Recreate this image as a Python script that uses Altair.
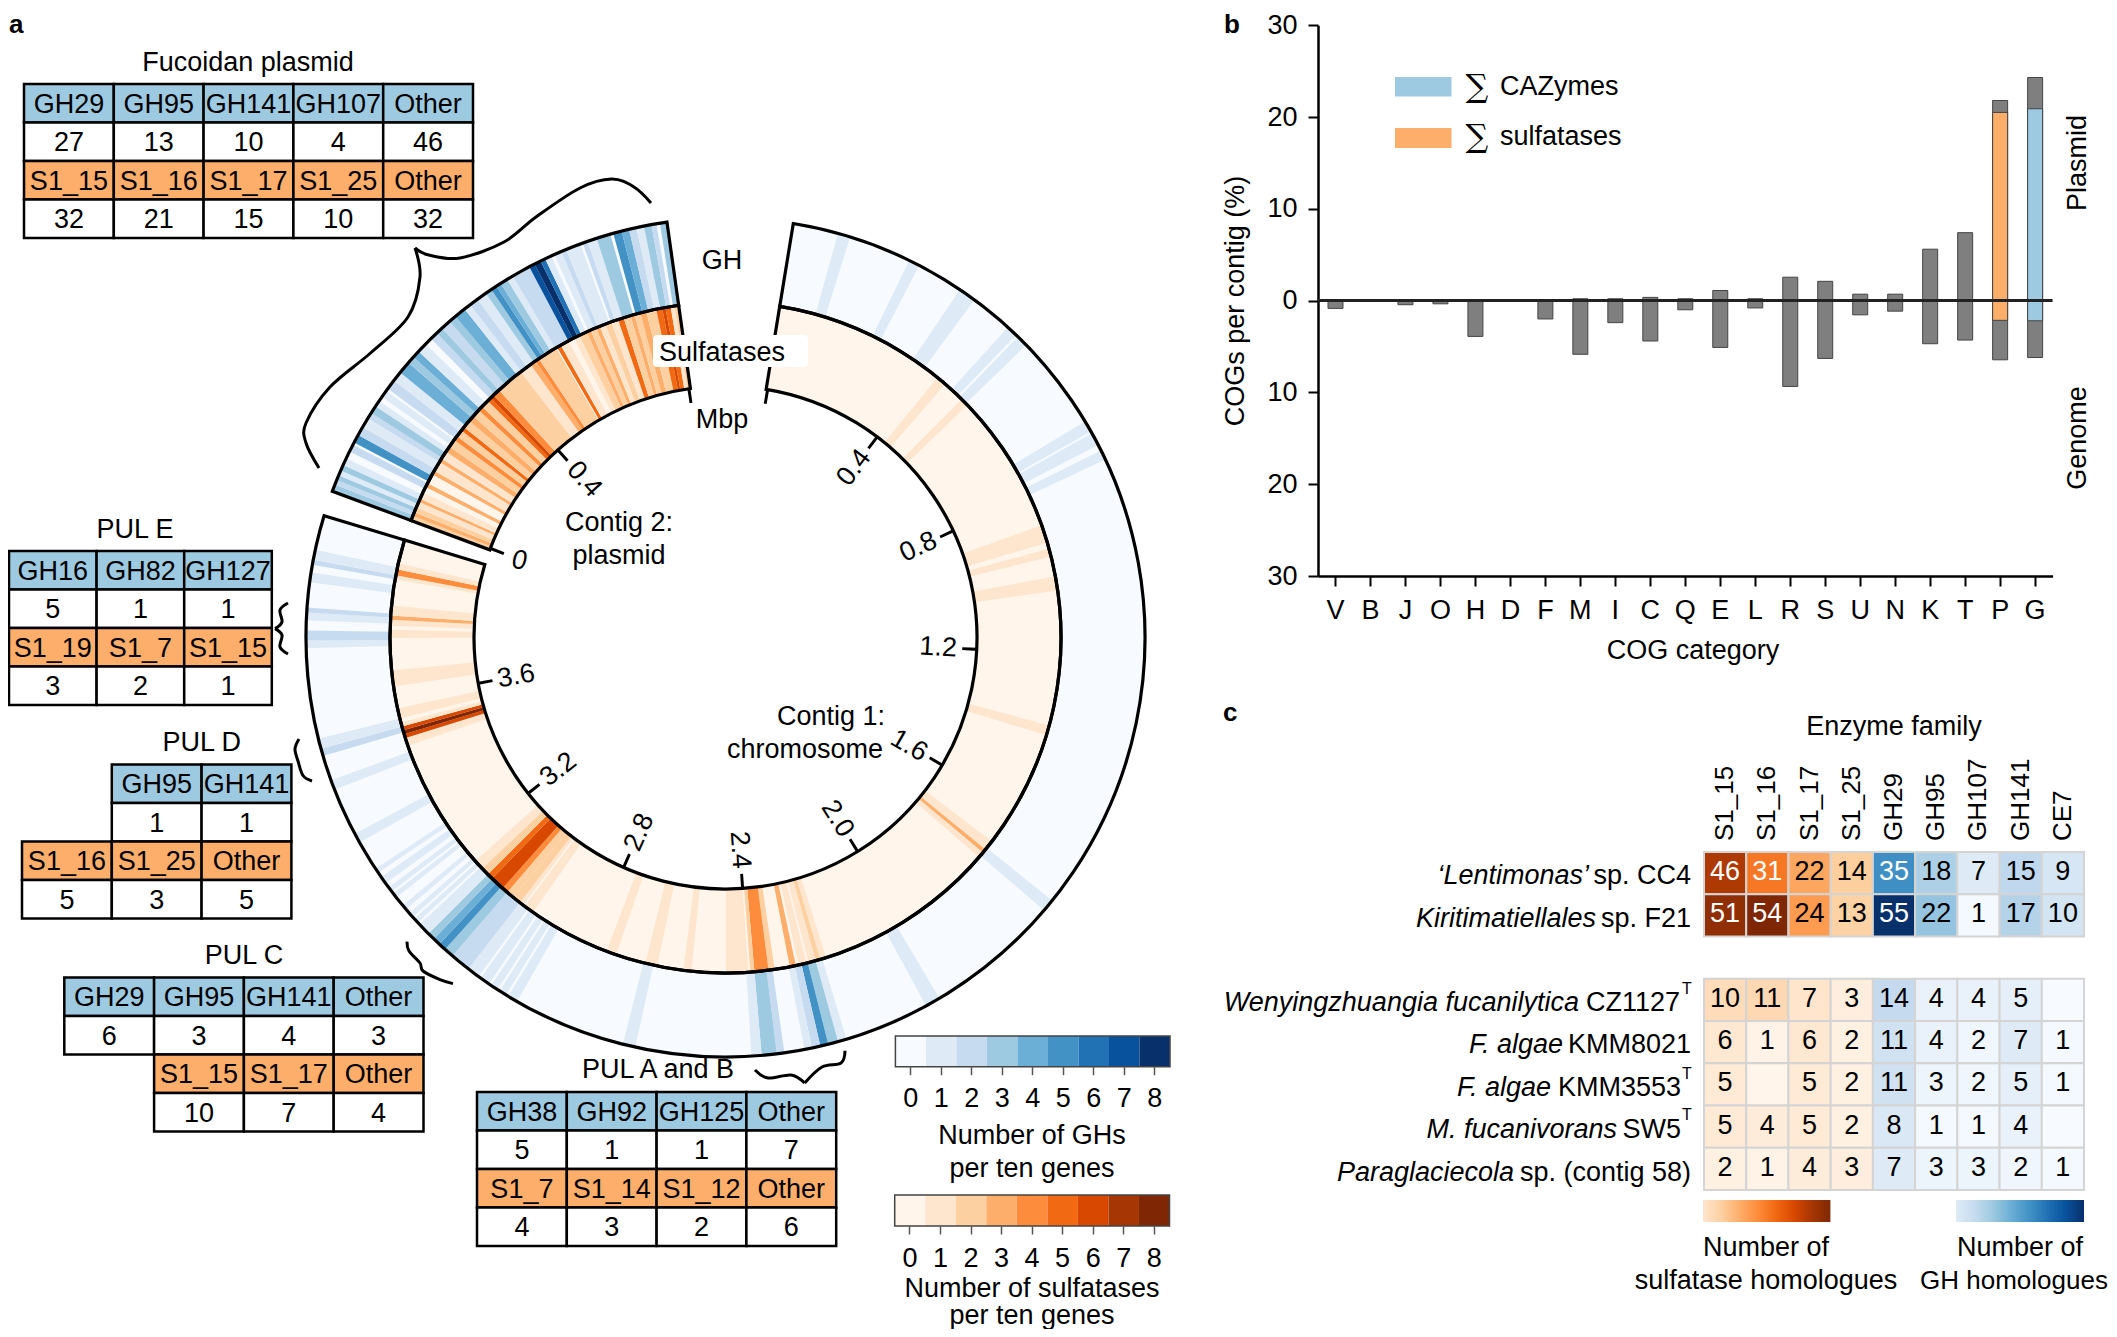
import math
import altair as alt
import pandas as pd

FONT = "Liberation Sans"
W, H = 2101, 1321
BLUES = ["#f7fbff", "#deebf7", "#c6dbef", "#9ecae1", "#6baed6", "#4292c6", "#2171b5", "#08519c", "#08306b"]
ORANGES = ["#fff5eb", "#fee6ce", "#fdd0a2", "#fdae6b", "#fd8d3c", "#f16913", "#d94801", "#a63603", "#7f2704"]
CELL_BLUE, CELL_ORANGE = "#9ecae1", "#fdae6b"

# ---------- panel a: stripes (start Mbp, end Mbp, genes per ten) ----------
chrom_gh = [(.09,.115,1),(.24,.262,1),(.355,.39,1),(.475,.497,1),(.502,.525,1),(.715,.738,1),(.742,.768,1),(.78,.80,1),
    (1.72,1.745,1),(2.015,2.045,1),(2.215,2.232,1),(2.232,2.252,3),(2.252,2.268,5),(2.268,2.285,2),(2.285,2.30,1),
    (2.34,2.355,2),(2.355,2.385,3),(2.385,2.405,1),(2.635,2.66,1),(2.885,2.905,1),(2.91,2.925,1),(2.93,2.945,1),
    (2.95,2.97,1),(2.975,3.0,1),(3.0,3.04,2),(3.04,3.06,3),(3.06,3.075,5),(3.075,3.09,4),(3.09,3.105,3),(3.105,3.13,1),
    (3.135,3.145,1),(3.15,3.16,1),(3.17,3.18,1),(3.2,3.21,1),(3.215,3.225,1),(3.235,3.25,1),(3.26,3.27,1),(3.33,3.35,1),
    (3.445,3.465,1),(3.515,3.53,2),(3.53,3.55,1),(3.73,3.745,1),(3.745,3.765,2),(3.785,3.80,1),(3.80,3.81,2),
    (3.86,3.88,1),(3.895,3.905,2),(3.905,3.925,1)]
chrom_s = [(.43,.455,1),(.51,.53,1),(.88,.925,1),(.94,.96,1),(1.01,1.045,1),(1.38,1.405,1),(1.70,1.725,1),(1.725,1.735,3),
    (1.735,1.75,1),(2.205,2.22,1),(2.22,2.232,2),(2.232,2.25,1),(2.255,2.275,1),(2.282,2.297,3),(2.335,2.35,2),(2.35,2.385,4),
    (2.385,2.395,2),(2.40,2.455,1),(2.54,2.56,1),(2.625,2.655,1),(2.73,2.755,1),(2.96,2.985,1),(2.99,3.0,1),(3.0,3.02,2),
    (3.02,3.04,2),(3.04,3.055,4),(3.055,3.09,6),(3.09,3.105,5),(3.105,3.125,2),(3.125,3.15,1),(3.48,3.50,1),(3.50,3.51,6),
    (3.51,3.52,8),(3.52,3.53,6),(3.53,3.54,1),(3.55,3.575,1),(3.63,3.67,1),(3.75,3.77,1),(3.78,3.795,1),(3.795,3.805,3),
    (3.805,3.83,1),(3.895,3.905,1),(3.905,3.92,4),(3.92,3.935,1)]
plas_gh = [(0,.014,3),(.014,.024,2),(.024,.034,3),(.034,.044,1),(.044,.056,3),(.056,.07,1),(.085,.10,2),(.105,.122,5),
    (.122,.14,2),(.14,.16,1),(.16,.172,2),(.172,.188,3),(.188,.20,1),(.21,.225,1),(.23,.25,2),(.25,.27,1),(.27,.295,4),
    (.295,.31,3),(.31,.325,4),(.325,.345,1),(.36,.376,2),(.376,.39,3),(.39,.41,2),(.41,.425,3),(.425,.448,4),(.448,.462,1),
    (.462,.48,2),(.48,.50,1),(.50,.513,3),(.513,.525,5),(.525,.535,4),(.535,.55,3),(.55,.563,1),(.563,.60,2),(.60,.612,7),(.612,.625,8),
    (.625,.635,6),(.635,.648,1),(.655,.67,1),(.67,.68,2),(.68,.71,1),(.715,.725,2),(.725,.744,1),(.744,.772,3),(.778,.795,5),
    (.795,.81,4),(.81,.825,2),(.825,.84,1),(.84,.855,3),(.855,.865,2),(.872,.886,3)]
plas_s = [(0,.012,2),(.012,.022,3),(.022,.035,2),(.035,.05,1),(.05,.058,3),(.058,.075,1),(.09,.10,3),(.125,.135,3),(.135,.16,1),
    (.16,.17,3),(.17,.19,1),(.19,.205,3),(.205,.225,2),(.225,.237,4),(.237,.255,2),(.255,.265,5),(.265,.285,2),(.285,.30,3),
    (.30,.32,2),(.32,.332,4),(.332,.352,2),(.352,.362,5),(.362,.372,6),(.372,.39,4),(.39,.46,2),(.46,.49,1),(.49,.505,3),
    (.505,.515,4),(.515,.565,2),(.568,.578,5),(.58,.60,1),(.615,.63,1),(.63,.65,2),(.65,.66,3),(.66,.675,2),(.675,.685,3),
    (.685,.70,1),(.70,.715,2),(.715,.733,1),(.733,.747,5),(.747,.765,2),(.765,.775,3),(.775,.79,2),(.79,.805,3),(.805,.83,2),
    (.83,.845,5),(.845,.853,6),(.853,.866,5),(.866,.876,1),(.876,.886,2)]
chrom_ticks = [0.4, 0.8, 1.2, 1.6, 2.0, 2.4, 2.8, 3.2, 3.6]
chrom_tick_rot = [307, 335, 3, 30, 58, 86, 294, 322, 350]
plas_ticks = [0.0, 0.4]
plas_tick_rot = [0, 48]

# ---------- panel a: tables ----------
fuc = [["GH29","GH95","GH141","GH107","Other"], [27,13,10,4,46], ["S1_15","S1_16","S1_17","S1_25","Other"], [32,21,15,10,32]]
pul_e = [["GH16","GH82","GH127"], [5,1,1], ["S1_19","S1_7","S1_15"], [3,2,1]]
pul_d = [[None,"GH95","GH141"], [None,1,1], ["S1_16","S1_25","Other"], [5,3,5]]
pul_c = [["GH29","GH95","GH141","Other"], [6,3,4,3], [None,"S1_15","S1_17","Other"], [None,10,7,4]]
pul_ab = [["GH38","GH92","GH125","Other"], [5,1,1,7], ["S1_7","S1_14","S1_12","Other"], [4,3,2,6]]

# ---------- panel b ----------
cog = list("VBJOHDFMICQELRSUNKTPG")
plasmid = [0,0,0,0,0,0,0,.2,.2,.35,.2,1.1,.2,2.55,2.1,.7,.7,5.6,7.4,21.8,24.3]
genome = [-.85,-.1,-.45,-.35,-3.9,0,-2.0,-5.85,-2.4,-4.4,-1.0,-5.1,-.8,-9.35,-6.3,-1.55,-1.15,-4.7,-4.3,-6.45,-6.2]
cog_sum_cat = ["P", "G"]
cog_sum_hi = [20.5, 20.9]
cog_sum_lo = [-2.15, -2.2]

# ---------- panel c ----------
enzymes = ["S1_15","S1_16","S1_17","S1_25","GH29","GH95","GH107","GH141","CE7"]
sp_rows = ["r0","r1","gap","r2","r3","r4","r5","r6"]
counts = {
 "r0":[46,31,22,14,35,18,7,15,9], "r1":[51,54,24,13,55,22,1,17,10],
 "r2":[10,11,7,3,14,4,4,5,None], "r3":[6,1,6,2,11,4,2,7,1],
 "r4":[5,None,5,2,11,3,2,5,1], "r5":[5,4,5,2,8,1,1,4,None], "r6":[2,1,4,3,7,3,3,2,1]}
sp_italic = ["‘Lentimonas’","Kiritimatiellales","Wenyingzhuangia fucanilytica","F. algae","F. algae","M. fucanivorans","Paraglaciecola"]
sp_plain = ["sp. CC4","sp. F21","CZ1127","KMM8021","KMM3553","SW5","sp. (contig 58)"]
sp_italic_end = [1589,1596,1579,1563,1551,1617,1514]
sp_plain_end = [1691,1691,1680,1691,1681,1681,1691]
sp_y = [874,917,1001,1043,1086,1128,1171]

# ---------- helpers: the canvas is measured in page pixels ----------
CX = alt.Scale(domain=[8, 8 + W], range=[0, W], nice=False, zero=False)
CY = alt.Scale(domain=[8, 8 + H], range=[0, H], nice=False, zero=False)
X = alt.X("x:Q", scale=CX, axis=None)
X2 = alt.X2("x2:Q")
Y = alt.Y("y:Q", scale=CY, axis=None)
Y2 = alt.Y2("y2:Q")
px = lambda v: v - 8

def T(texts, xs, ys, size=27, align="center", **kw):
    nudge = 0 if "angle" in kw else 1.5
    df = pd.DataFrame({"t": texts, "x": xs, "y": [v + nudge for v in ys]})
    return alt.Chart(df).mark_text(font=FONT, fontSize=size, color="black", baseline="middle", align=align, **kw).encode(x=X, y=Y, text="t:N")

layers = []

# ---------- rings ----------
cx, cy = 725.5, 637.5
Ro, Rm, Ri = 419.5, 335.5, 251.5
TH_C = alt.Scale(domain=[0, 4], range=[math.radians(9.3), math.radians(9.3 + 278)], nice=False, zero=False)
TH_P = alt.Scale(domain=[0, 1], range=[math.radians(290.4), math.radians(290.4 + 69.5)], nice=False, zero=False)
C_END, P_END = 3.994, 0.886

def ring(rows, r_out, r_in, th, pal):
    df = pd.DataFrame(rows, columns=["s", "e", "n"])
    return alt.Chart(df).mark_arc(stroke=None).encode(
        x=alt.value(px(cx)), y=alt.value(px(cy)),
        theta=alt.Theta("s:Q", scale=th, stack=None), theta2="e:Q",
        radius=alt.value(r_out), radius2=alt.value(r_in),
        color=alt.Color("n:O", scale=alt.Scale(domain=list(range(9)), range=pal), legend=None))

for rows, ro, ri, th, pal, end in [
    (chrom_gh, Ro, Rm, TH_C, BLUES, C_END), (chrom_s, Rm, Ri, TH_C, ORANGES, C_END),
    (plas_gh, Ro, Rm, TH_P, BLUES, P_END), (plas_s, Rm, Ri, TH_P, ORANGES, P_END)]:
    layers.append(ring([(0, end, 0)], ro, ri, th, pal))
    layers.append(ring(rows, ro, ri, th, pal))

def outline(r_out, r_in, th, end):
    df = pd.DataFrame({"s": [0], "e": [end]})
    return alt.Chart(df).mark_arc(filled=False, stroke="black", strokeWidth=3.2, fillOpacity=0).encode(
        x=alt.value(px(cx)), y=alt.value(px(cy)),
        theta=alt.Theta("s:Q", scale=th, stack=None), theta2="e:Q",
        radius=alt.value(r_out), radius2=alt.value(r_in))

for ro, ri in [(Ro, Rm), (Rm, Ri)]:
    layers.append(outline(ro, ri, TH_C, C_END))
    layers.append(outline(ro, ri, TH_P, P_END))

def ticks(vals, th):
    df = pd.DataFrame({"s": [v - 0.005 for v in vals], "e": [v + 0.005 for v in vals]})
    return alt.Chart(df).mark_arc(color="black").encode(
        x=alt.value(px(cx)), y=alt.value(px(cy)),
        theta=alt.Theta("s:Q", scale=th, stack=None), theta2="e:Q",
        radius=alt.value(Ri + 1), radius2=alt.value(237))

layers.append(ticks([0.005] + chrom_ticks, TH_C))
layers.append(ticks([0.005, 0.4, P_END - 0.005], TH_P))

def tick_labels(vals, rots, th, radius, **kw):
    df = pd.DataFrame({"m": vals, "t": [("0" if v == 0 else f"{v:.1f}") for v in vals], "rot": rots})
    return alt.Chart(df).mark_text(font=FONT, fontSize=27, color="black", baseline="middle", align="center", radius=radius, **kw).encode(
        x=alt.value(px(cx)), y=alt.value(px(cy)),
        theta=alt.Theta("m:Q", scale=th, stack=None),
        text="t:N", angle=alt.Angle("rot:Q", scale=None))

layers.append(tick_labels(chrom_ticks, chrom_tick_rot, TH_C, 213))
layers.append(tick_labels(plas_ticks[1:], plas_tick_rot[1:], TH_P, 212))
layers.append(tick_labels(plas_ticks[:1], plas_tick_rot[:1], TH_P, 220, fontStyle="italic"))

box = pd.DataFrame({"x": [653], "x2": [808], "y": [335], "y2": [367]})
layers.append(alt.Chart(box).mark_rect(color="white", cornerRadius=4).encode(x=X, x2=X2, y=Y, y2=Y2))
layers.append(T(["GH", "Sulfatases", "Mbp", "Contig 2:", "plasmid", "Contig 1:", "chromosome"],
                [722, 722, 722, 619, 619, 831, 805], [259, 351, 418, 521, 554, 715, 748]))

# ---------- braces ----------
braces = [
 [(651,203),(634,187),(611.6,179),(580,188),(536,217),(504,242),(460,258),(428.6,255),(415,248)],
 [(415,248),(420,277),(408,317),(370.5,353),(330,387),(306,423),(306,443),(319,468)],
 [(288,603),(280,610),(282,622),(275,628.6)], [(275,628.6),(282,635),(280,647),(288,654)],
 [(299,739),(295,749),(298,761),(303,775.5),(312,781)],
 [(407,941.6),(409,951),(420,963),(423,971),(440,979.6),(453,983.6)],
 [(845,1050.7),(841,1063),(822,1067),(804.7,1083)], [(804.7,1083),(791,1075),(768,1078),(755,1070)],
]
rows = [{"id": k, "i": i, "x": p[0], "y": p[1]} for k, b in enumerate(braces) for i, p in enumerate(b)]
layers.append(alt.Chart(pd.DataFrame(rows)).mark_line(color="black", strokeWidth=3, interpolate="cardinal").encode(
    x=X, y=Y, detail="id:N", order="i:Q"))

# ---------- tables ----------
def table(x0, y0, grid, cw=89.8, rh=38.5):
    rects, labels = [], []
    for r, row in enumerate(grid):
        for c, v in enumerate(row):
            if v is None:
                continue
            fill = "white" if r % 2 else (CELL_BLUE if r == 0 else CELL_ORANGE)
            rects.append({"x": x0 + c * cw, "x2": x0 + (c + 1) * cw, "y": y0 + r * rh, "y2": y0 + (r + 1) * rh, "f": fill})
            labels.append((str(v), x0 + (c + .5) * cw, y0 + (r + .5) * rh))
    a = alt.Chart(pd.DataFrame(rects)).mark_rect(stroke="black", strokeWidth=2.5).encode(
        x=X, x2=X2, y=Y, y2=Y2, color=alt.Color("f:N", scale=None))
    b = T([l[0] for l in labels], [l[1] for l in labels], [l[2] for l in labels])
    return [a, b]

layers += table(24, 84, fuc)
layers += table(9, 551, pul_e, cw=87.6)
layers += table(22, 764.5, pul_d)
layers += table(64.3, 977.5, pul_c)
layers += table(477, 1092, pul_ab)
layers.append(T(["Fucoidan plasmid", "PUL E", "PUL D", "PUL C", "PUL A and B"],
                [248, 135, 201.7, 244, 658], [61, 528, 741.6, 954, 1068]))

# ---------- ring legends ----------
def legend(pal, x0, x1, y0, y1, lines, line_y):
    df = pd.DataFrame({"n": list(range(9))})
    bx = alt.Scale(type="band", domain=list(range(9)), range=[px(x0), px(x1)], padding=0)
    rect = alt.Chart(df).mark_rect().encode(
        x=alt.X("n:O", scale=bx, axis=alt.Axis(orient="bottom", offset=-(H - px(y1)), title=None, domain=False, labelAngle=0,
                tickSize=8, tickColor="#555", tickWidth=1.5, labelFont=FONT, labelFontSize=27, labelColor="black", labelPadding=11)),
        y=alt.value(px(y0)), y2=alt.value(px(y1)),
        color=alt.Color("n:O", scale=alt.Scale(domain=list(range(9)), range=pal), legend=None))
    frame = pd.DataFrame({"x": [x0], "x2": [x1], "y": [y0], "y2": [y1]})
    edge = alt.Chart(frame).mark_rect(fillOpacity=0, stroke="#444", strokeWidth=1.5).encode(x=X, x2=X2, y=Y, y2=Y2)
    return [rect, edge, T(lines, [1032] * 2, line_y)]

layers += legend(BLUES, 895.4, 1170, 1036, 1066.7, ["Number of GHs", "per ten genes"], [1134, 1167.7])
layers += legend(ORANGES, 894.7, 1169.5, 1195, 1226, ["Number of sulfatases", "per ten genes"], [1287, 1314])

# ---------- panel b ----------
BX = alt.Scale(type="band", domain=cog, range=[px(1318), px(2052.6)], padding=0)
BY = alt.Scale(domain=[-30, 30], range=[px(576), px(25.2)], nice=False, zero=False)
bars = pd.DataFrame({"c": cog, "hi": plasmid, "lo": genome})
layers.append(alt.Chart(bars).mark_bar(size=15, color="#7f7f7f", stroke="#444", strokeWidth=1).encode(
    x=alt.X("c:N", scale=BX, sort=cog, axis=alt.Axis(orient="bottom", offset=-(H - px(576)), title=None, labelAngle=0, labelFont=FONT,
            labelFontSize=27, labelColor="black", tickSize=10, tickColor="black", tickWidth=2, domainColor="black", domainWidth=2.5, labelPadding=11)),
    y=alt.Y("hi:Q", scale=BY, axis=alt.Axis(orient="left", offset=-px(1318), title=None, grid=False, values=[-30,-20,-10,0,10,20,30],
            labelExpr="abs(datum.value)", labelFont=FONT, labelFontSize=27, labelColor="black", tickSize=10, tickColor="black",
            tickWidth=2, domainColor="black", domainWidth=2.5, labelPadding=11, labelFlush=False, labelOverlap=False)),
    y2="lo:Q"))
sums = pd.DataFrame({"c": cog_sum_cat, "hi": cog_sum_hi, "lo": cog_sum_lo, "f": [CELL_ORANGE, CELL_BLUE]})
layers.append(alt.Chart(sums).mark_bar(size=15, stroke="#444", strokeWidth=1).encode(
    x=alt.X("c:N", scale=BX, sort=cog, axis=None), y=alt.Y("hi:Q", scale=BY, axis=None), y2="lo:Q", color=alt.Color("f:N", scale=None)))
zero = pd.DataFrame({"x": [1318], "x2": [2052.6], "v": [0]})
layers.append(alt.Chart(zero).mark_rule(color="#222", strokeWidth=3).encode(
    x=alt.X("x:Q", scale=CX, axis=None), x2="x2:Q", y=alt.Y("v:Q", scale=BY, axis=None)))
swatch = pd.DataFrame({"x": [1395, 1395], "x2": [1451.5, 1451.5], "y": [77, 128], "y2": [96.5, 148], "f": [CELL_BLUE, CELL_ORANGE]})
layers.append(alt.Chart(swatch).mark_rect().encode(x=X, x2=X2, y=Y, y2=Y2, color=alt.Color("f:N", scale=None)))
sig = pd.DataFrame({"t": ["∑", "∑"], "x": [1477, 1477], "y": [87, 137]})
layers.append(alt.Chart(sig).mark_text(font="DejaVu Serif", fontSize=32, color="black", baseline="middle").encode(x=X, y=Y, text="t:N"))
layers.append(T(["CAZymes", "sulfatases"], [1500, 1500], [85.5, 135.5], align="left"))
layers.append(T(["COG category"], [1693], [649.5]))
layers.append(T(["COGs per contig (%)", "Plasmid", "Genome"], [1236, 2078, 2078], [301, 163, 438], angle=270))

# ---------- panel c ----------
HX = alt.Scale(type="band", domain=enzymes, range=[px(1704), px(2084)], padding=0)
HY = alt.Scale(type="band", domain=sp_rows, range=[px(852), px(1190)], padding=0)
cells = []
for r, vals in counts.items():
    for e, v in zip(enzymes, vals):
        big = v is not None and ((e == "S1_15" and v >= 46) or (e == "S1_16" and v >= 31) or (e == "GH29" and v >= 35))
        cells.append({"r": r, "e": e, "n": 0 if v is None else v, "t": "" if v is None else str(v),
                      "tc": "white" if big else "black", "grp": "s" if e.startswith("S1") else "g"})
cells = pd.DataFrame(cells)
for grp, pal, top in [("s", ORANGES, 54), ("g", BLUES, 55)]:
    layers.append(alt.Chart(cells[cells.grp == grp]).mark_rect(stroke="#d4d4d4", strokeWidth=2).encode(
        x=alt.X("e:N", scale=HX, sort=enzymes, axis=None), y=alt.Y("r:N", scale=HY, sort=sp_rows, axis=None),
        color=alt.Color("n:Q", scale=alt.Scale(domain=[top * i / 8 for i in range(9)], range=pal), legend=None)))
layers.append(alt.Chart(cells).mark_text(font=FONT, fontSize=27, baseline="middle", dy=-1).encode(
    x=alt.X("e:N", scale=HX, sort=enzymes, axis=None), y=alt.Y("r:N", scale=HY, sort=sp_rows, axis=None),
    text="t:N", color=alt.Color("tc:N", scale=None)))
hdr = pd.DataFrame({"e": enzymes, "yy": [841] * 9})
layers.append(alt.Chart(hdr).mark_text(font=FONT, fontSize=26, color="black", angle=270, align="left", baseline="middle").encode(
    x=alt.X("e:N", scale=HX, sort=enzymes, axis=None), y=alt.Y("yy:Q", scale=CY, axis=None), text="e:N"))
layers.append(T(sp_italic, sp_italic_end, sp_y, align="right", fontStyle="italic"))
layers.append(T(sp_plain, sp_plain_end, sp_y, align="right"))
layers.append(T(["T", "T", "T"], [1687, 1687, 1687], [987.5, 1072, 1113.6], size=16))

def grad(x0, x1, stops):
    df = pd.DataFrame({"x": [x0], "x2": [x1], "y": [1200], "y2": [1222]})
    fill = alt.LinearGradient(gradient="linear", x1=0, x2=1, y1=0, y2=0,
                              stops=[alt.GradientStop(color=c, offset=i / (len(stops) - 1)) for i, c in enumerate(stops)])
    return alt.Chart(df).mark_rect(fill=fill).encode(x=X, x2=X2, y=Y, y2=Y2)

layers.append(grad(1703, 1830.4, ORANGES[1:]))
layers.append(grad(1956, 2084, BLUES[1:]))
layers.append(T(["Enzyme family", "Number of", "sulfatase homologues", "Number of"],
                [1894, 1766, 1766, 2020], [725, 1246, 1279, 1246]))
layers.append(T(["GH homologues"], [2014], [1279], size=26))
layers.append(T(["a", "b", "c"], [9, 1224, 1223], [23, 23, 711], size=26, align="left", fontWeight="bold"))

chart = alt.layer(*layers).resolve_scale(
    x="independent", y="independent", theta="independent", color="independent"
).properties(width=W, height=H, padding=0, autosize=alt.AutoSizeParams(type="none")).configure_view(stroke=None)

chart.save("out.html", embed_options={"renderer": "svg", "actions": False})
